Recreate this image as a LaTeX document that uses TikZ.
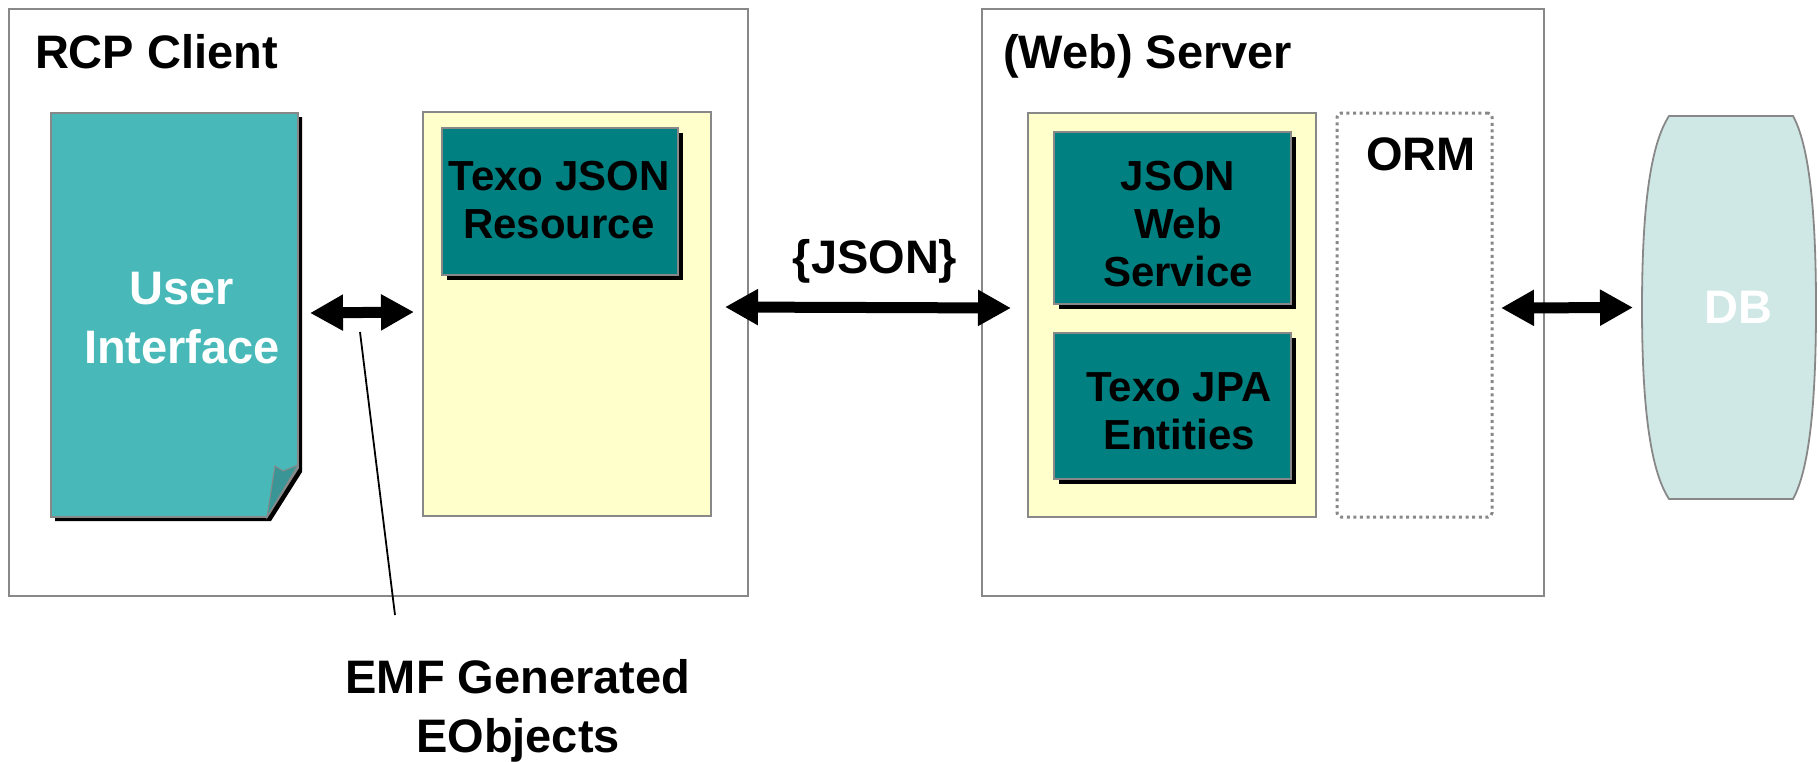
\documentclass[tikz,border=0pt]{standalone}
\usepackage{fontspec}
\setmainfont{Liberation Sans}
\usetikzlibrary{arrows.meta,shadows}
\definecolor{uiteal}{HTML}{48B8B8}
\definecolor{uifold}{HTML}{3A9696}
\definecolor{dteal}{HTML}{008080}
\definecolor{lyellow}{HTML}{FFFFCC}
\definecolor{dbfill}{HTML}{CFE8E5}
\definecolor{bord}{HTML}{888888}
\begin{document}
\begin{tikzpicture}[x=1pt,y=-1pt,
  every node/.style={inner sep=0pt,outer sep=0pt},
  outerbox/.style={draw=bord,line width=1.8pt,fill=white},
  yellowbox/.style={draw=bord,line width=1.8pt,fill=lyellow},
  tealbox/.style={draw=bord,line width=1.8pt,fill=dteal,
     drop shadow={fill=black,opacity=1,shadow xshift=5pt,shadow yshift=-5pt}},
  ormbox/.style={draw=bord,line width=3pt,dash pattern=on 3pt off 3.6pt,rounded corners=4pt},
  bigtxt/.style={font=\fontsize{47}{59}\selectfont\bfseries,align=center},
  midtxt/.style={font=\fontsize{42}{48}\selectfont\bfseries,align=center},
  dblarrow/.style={line width=11pt,{Triangle[length=33pt,width=34pt]}-{Triangle[length=33pt,width=34pt]}},
  pointer/.style={line width=1.8pt}]
\useasboundingbox (0,0) rectangle (1818,761);

% outer containers
\node[outerbox,minimum width=739,minimum height=587] (client) at (378.5,302.5) {};
\node[outerbox,minimum width=562,minimum height=587] (server) at (1263,302.5) {};
\node[bigtxt,anchor=base west] (clientT) at (35,68) {RCP Client};
\node[bigtxt,anchor=base west] (serverT) at (1003,68) {(Web) Server};

% user interface document
\node[minimum width=247,minimum height=404] (ui) at (174.5,315) {};
\fill[black] (55,117) -- (302,117) -- (302,472) -- (271,521) -- (55,521) -- cycle;
\draw[draw=bord,line width=1.8pt,fill=uiteal] (51,113) -- (298,113) -- (298,468) -- (267,517) -- (51,517) -- cycle;
\draw[draw=bord,line width=1pt,fill=uifold] (298,465) -- (267,517) -- (275,466) -- (283,471) -- cycle;
\node[bigtxt,text=white] (uiT) at (182,318) {User\\Interface};

% client yellow
\node[yellowbox,minimum width=288,minimum height=404] (cy) at (567,314) {};
\node[tealbox,minimum width=236,minimum height=147] (texojson) at (560,201.5) {};
\node[midtxt] (texojsonT) at (559,200) {Texo JSON\\Resource};

% server yellow
\node[yellowbox,minimum width=288,minimum height=404] (sy) at (1172,315) {};
\node[tealbox,minimum width=237,minimum height=172] (jsonws) at (1172.5,218) {};
\node[midtxt] (jsonwsT) at (1178,224) {JSON\\Web\\Service};
\node[tealbox,minimum width=237,minimum height=146] (texojpa) at (1172.5,406) {};
\node[midtxt] (texojpaT) at (1179,411) {Texo JPA\\Entities};

% ORM
\node[ormbox,minimum width=155,minimum height=404] (orm) at (1414.5,315) {};
\node[bigtxt] (ormT) at (1421,154) {ORM};

% DB
\node[minimum width=174,minimum height=383] (db) at (1729,307.5) {};
\draw[draw=bord,line width=1.8pt,fill=dbfill]
  (1669,116) -- (1793,116)
  .. controls (1809,145) and (1816,210) .. (1816,307.5)
  .. controls (1816,405) and (1809,470) .. (1793,499)
  -- (1669,499)
  .. controls (1650,470) and (1642,405) .. (1642,307.5)
  .. controls (1642,210) and (1650,145) .. (1669,116) -- cycle;
\node[bigtxt,text=white] (dbT) at (1738,307) {DB};

% arrows
\draw[dblarrow] ([xshift=12pt,yshift=2pt]ui.east) -- ([xshift=-9pt,yshift=2pt]cy.west);
\draw[dblarrow] ([xshift=14pt,yshift=7pt]cy.east) -- ([xshift=-17pt,yshift=7pt]sy.west);
\draw[dblarrow] ([xshift=9pt,yshift=7pt]orm.east) -- ([xshift=-9pt]db.west);
\node[bigtxt,anchor=base] (jsonT) at (875,273) {\{JSON\}};

% EMF label
\node[bigtxt] (emf) at (518,711) {EMF Generated\\EObjects};
\coordinate (ptrA) at (360,332);
\coordinate (ptrB) at (395,615);
\draw[pointer] (ptrA) -- (ptrB);
\end{tikzpicture}
\end{document}
